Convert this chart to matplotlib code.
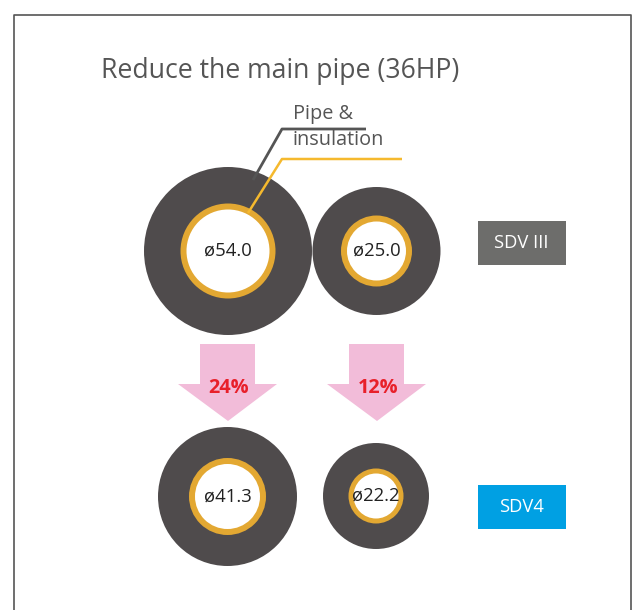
import matplotlib
matplotlib.use("Agg")
import matplotlib.pyplot as plt
from matplotlib.patches import Circle, Polygon, Rectangle

# data
diameters = [54.0, 25.0, 41.3, 22.2]
reductions = ["24%", "12%"]
series = ["SDV III", "SDV4"]
title = "Reduce the main pipe (36HP)"

# layout (pixels)
centers = [(228, 251), (376.5, 251), (227.5, 496.5), (376, 496)]
outer_r = [84, 64, 69.5, 53]
ring_r = [47.5, 35.5, 38.5, 27.5]
white_r = [41.5, 29.5, 32.5, 22.5]
arrow_x = [228, 377]
box_y = [221, 485]
box_colors = ["#6d6d6b", "#00a0e3"]

dark = "#4f4b4c"
orange = "#e3a832"
pink = "#f2bcd9"

plt.rcParams['font.family'] = ['Open Sans', 'DejaVu Sans']

fig = plt.figure(figsize=(6.35, 6.1), dpi=100)
ax = fig.add_axes([0, 0, 1, 1])
ax.set_xlim(0, 635)
ax.set_ylim(610, 0)
ax.axis("off")

# frame (no bottom edge)
ax.plot([14, 14, 631, 631], [610, 14.5, 14.5, 610], color="#555555", lw=1.2)

ax.text(101, 71, title, fontsize=19.2, color="#555555", va="center", ha="left")

for i in range(4):
    cx, cy = centers[i]
    ax.add_patch(Circle((cx, cy), outer_r[i], color=dark, lw=0))
    ax.add_patch(Circle((cx, cy), ring_r[i], color=orange, lw=0))
    ax.add_patch(Circle((cx, cy), white_r[i], color="white", lw=0))
    ax.text(cx, cy, "ø%.1f" % diameters[i], fontsize=13.3, color="#222222",
            ha="center", va="center")

# leader lines
ax.plot([253, 282, 366], [180, 129, 129], color="#555555", lw=2, solid_capstyle="butt")
ax.plot([248, 282, 402], [213, 159, 159], color="#f5b92e", lw=1.8, solid_capstyle="butt")
ax.text(293, 114, "Pipe &", fontsize=14.3, color="#555555", va="center", ha="left")
ax.text(293, 140, "insulation", fontsize=14.3, color="#555555", va="center", ha="left")

# arrows
for x, r in zip(arrow_x, reductions):
    pts = [(x - 28, 344), (x + 27, 344), (x + 27, 384), (x + 49, 384),
           (x, 421), (x - 50, 384), (x - 28, 384)]
    ax.add_patch(Polygon(pts, closed=True, color=pink, lw=0))
    ax.text(x + 1, 388, r, fontsize=14.3, fontweight="bold", color="#e8202a",
            ha="center", va="center")

# series boxes
for y, lab, c in zip(box_y, series, box_colors):
    ax.add_patch(Rectangle((478, y), 88, 44, color=c, lw=0))
    ax.text(521, y + 22, lab, fontsize=13.2, color="white", ha="center", va="center")

fig.savefig("out.png", dpi=100)
